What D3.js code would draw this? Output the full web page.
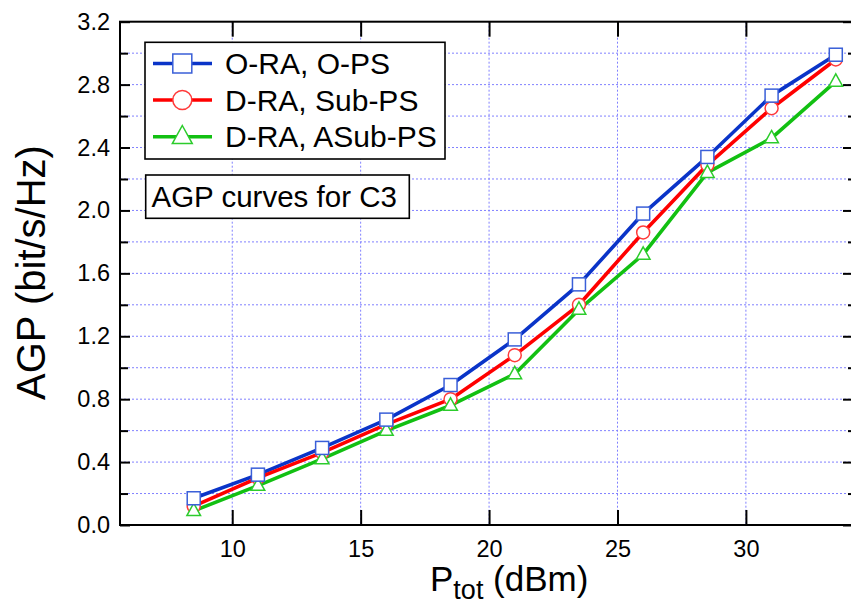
<!DOCTYPE html>
<html>
<head>
<meta charset="utf-8">
<script src="https://cdn.jsdelivr.net/npm/d3@7"></script>
<style>
  html, body { margin: 0; padding: 0; background: #fff; }
  svg { display: block; }
  text { font-family: "Liberation Sans", Arial, sans-serif; fill: #000; }
</style>
</head>
<body>
<svg id="chart" width="851" height="615"></svg>
<script>
// ---- data ----
const pTot = [8.5, 11, 13.5, 16, 18.5, 21, 23.5, 26, 28.5, 31, 33.5];
const oraOps  = [0.17, 0.32, 0.49, 0.67, 0.89, 1.18, 1.53, 1.98, 2.34, 2.73, 2.99];
const draSub  = [0.12, 0.30, 0.46, 0.64, 0.80, 1.08, 1.40, 1.86, 2.29, 2.65, 2.96];
const draASub = [0.09, 0.25, 0.42, 0.60, 0.76, 0.96, 1.37, 1.72, 2.24, 2.46, 2.82];
const seriesNames = ["O-RA, O-PS", "D-RA, Sub-PS", "D-RA, ASub-PS"];
const xTicks = [10, 15, 20, 25, 30];
const yTicks = [0.0, 0.4, 0.8, 1.2, 1.6, 2.0, 2.4, 2.8, 3.2];
const yMinorTicks = [0.2, 0.6, 1.0, 1.4, 1.8, 2.2, 2.6, 3.0];
const annotation = "AGP curves for C3";

const series = [
  { name: seriesNames[0], values: oraOps,  line: "#0a34c8", mark: "#3a5fd8", shape: "square" },
  { name: seriesNames[1], values: draSub,  line: "#ff0000", mark: "#ff3a3a", shape: "circle" },
  { name: seriesNames[2], values: draASub, line: "#12c012", mark: "#2ccc2c", shape: "triangle" }
];

const svg = d3.select("#chart");
const L = 120, R = 853, T = 21.7, B = 525;
const x = d3.scaleLinear().domain([5.63, 34.17]).range([L, R]);
const y = d3.scaleLinear().domain([0, 3.2]).range([B, T]);

// grid
const grid = svg.append("g").attr("stroke", "#8080ff").attr("stroke-width", 1)
  .attr("stroke-dasharray", "2,2");
grid.selectAll("line.gx").data(xTicks).join("line")
  .attr("x1", d => x(d)).attr("x2", d => x(d)).attr("y1", T).attr("y2", B);
grid.selectAll("line.gy").data(yTicks.concat(yMinorTicks).filter(v => v > 0 && v < 3.2)).join("line")
  .attr("x1", L).attr("x2", R).attr("y1", d => y(d)).attr("y2", d => y(d));

// axes
function styleAxis(g) {
  g.selectAll(".domain").remove();
  g.selectAll(".tick line").attr("stroke", "#000").attr("stroke-width", 2);
  g.selectAll("text").style("font-size", "23.5px").attr("fill", "#000");
}
svg.append("g").attr("transform", `translate(0,${B})`)
  .call(d3.axisBottom(x).tickValues(xTicks).tickSizeInner(-15).tickSizeOuter(0).tickPadding(15))
  .call(styleAxis);
svg.append("g").attr("transform", `translate(0,${T})`)
  .call(d3.axisTop(x).tickValues(xTicks).tickSizeInner(-15).tickSizeOuter(0).tickFormat(""))
  .call(styleAxis);
svg.append("g").attr("transform", `translate(${L},0)`)
  .call(d3.axisLeft(y).tickValues(yTicks).tickSizeInner(-10).tickSizeOuter(0).tickPadding(10)
    .tickFormat(d3.format(".1f")))
  .call(styleAxis);
svg.append("g").attr("transform", `translate(${L},0)`)
  .call(d3.axisLeft(y).tickValues(yMinorTicks).tickSizeInner(-8).tickSizeOuter(0).tickFormat(""))
  .call(styleAxis);
svg.append("g").attr("transform", `translate(${R},0)`)
  .call(d3.axisRight(y).tickValues(yTicks).tickSizeInner(-10).tickSizeOuter(0).tickFormat(""))
  .call(styleAxis);
svg.append("g").attr("transform", `translate(${R},0)`)
  .call(d3.axisRight(y).tickValues(yMinorTicks).tickSizeInner(-5).tickSizeOuter(0).tickFormat(""))
  .call(styleAxis);

// frame
svg.append("rect").attr("x", L).attr("y", T).attr("width", R - L).attr("height", B - T)
  .attr("fill", "none").attr("stroke", "#000").attr("stroke-width", 2);

// lines
const lineGen = d3.line().x((d, i) => x(pTot[i])).y(d => y(d));
series.forEach(s => {
  svg.append("path").datum(s.values).attr("d", lineGen)
    .attr("fill", "none").attr("stroke", s.line).attr("stroke-width", 3.6)
    .attr("stroke-linejoin", "round");
});

function drawMarker(g, shape, cx, cy, size, color) {
  if (shape === "square") {
    g.append("rect").attr("x", cx - size / 2).attr("y", cy - size / 2)
      .attr("width", size).attr("height", size)
      .attr("fill", "#fff").attr("stroke", color).attr("stroke-width", 1.5);
  } else if (shape === "circle") {
    g.append("circle").attr("cx", cx).attr("cy", cy).attr("r", size / 2)
      .attr("fill", "#fff").attr("stroke", color).attr("stroke-width", 1.5);
  } else {
    const w = size * 1.05, h = size * 0.95;
    const pts = [[cx, cy - h * 0.62], [cx + w / 2, cy + h * 0.38], [cx - w / 2, cy + h * 0.38]];
    g.append("path").attr("d", "M" + pts.map(p => p.join(",")).join("L") + "Z")
      .attr("fill", "#fff").attr("stroke", color).attr("stroke-width", 1.5);
  }
}
const markG = svg.append("g");
[1, 2, 0].forEach(k => {
  const s = series[k];
  s.values.forEach((v, i) => drawMarker(markG, s.shape, x(pTot[i]), y(v), 13, s.mark));
});

// legend
const leg = svg.append("g");
leg.append("rect").attr("x", 145).attr("y", 42.3).attr("width", 300).attr("height", 116.7)
  .attr("fill", "#fff").attr("stroke", "#000").attr("stroke-width", 1.6);
const rowY = [63.5, 100, 136.7];
series.forEach((s, i) => {
  leg.append("line").attr("x1", 153).attr("x2", 212).attr("y1", rowY[i]).attr("y2", rowY[i])
    .attr("stroke", s.line).attr("stroke-width", 3.6);
  drawMarker(leg, s.shape, 182.3, rowY[i], 19, s.mark);
  leg.append("text").attr("x", 225).attr("y", rowY[i] + 10.5)
    .style("font-size", "30px").text(s.name);
});

// annotation box
const ann = svg.append("g");
ann.append("rect").attr("x", 145.7).attr("y", 175).attr("width", 263.6).attr("height", 43.3)
  .attr("fill", "#fff").attr("stroke", "#000").attr("stroke-width", 1.6);
ann.append("text").attr("x", 151.5).attr("y", 207).style("font-size", "29.5px").text(annotation);

// axis titles
const xt = svg.append("text").attr("x", 430).attr("y", 591).style("font-size", "35px");
xt.append("tspan").text("P");
xt.append("tspan").attr("dy", 8).style("font-size", "27px").text("tot");
xt.append("tspan").attr("dy", -8).text(" (dBm)");

svg.append("text").attr("transform", "translate(45,272.5) rotate(-90)")
  .attr("text-anchor", "middle").style("font-size", "40px").text("AGP (bit/s/Hz)");
</script>
</body>
</html>
